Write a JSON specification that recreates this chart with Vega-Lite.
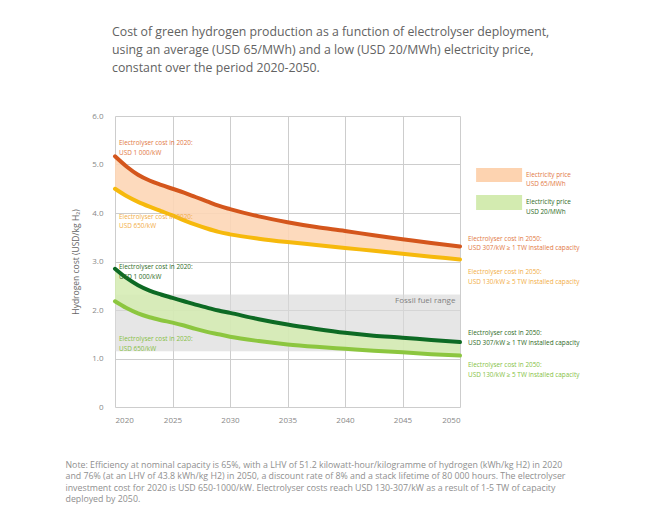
{
  "$schema": "https://vega.github.io/schema/vega-lite/v6.json",
  "autosize": {"type": "none"},
  "padding": {"left": 115, "top": 116, "right": 193, "bottom": 122},
  "width": 345,
  "height": 291,
  "background": "white",
  "config": {
    "font": "Open Sans",
    "view": {"stroke": null},
    "axis": {"labelFont": "Open Sans", "titleFont": "Open Sans"}
  },
  "title": {
    "text": [
      "Cost of green hydrogen production as a function of electrolyser deployment,",
      "using an average (USD 65/MWh) and a low (USD 20/MWh) electricity price,",
      "constant over the period 2020-2050."
    ],
    "anchor": "start",
    "frame": "group",
    "font": "Open Sans",
    "fontSize": 12.3,
    "fontWeight": "normal",
    "color": "#626262",
    "lineHeight": 18,
    "offset": 38,
    "dx": -3
  },
  "datasets": {
    "curves": [
      {"year": 2020, "avg1000": 5.17, "avg650": 4.50, "low1000": 2.85, "low650": 2.18},
      {"year": 2021, "avg1000": 4.96, "avg650": 4.35, "low1000": 2.66, "low650": 2.04},
      {"year": 2022, "avg1000": 4.79, "avg650": 4.23, "low1000": 2.51, "low650": 1.93},
      {"year": 2023, "avg1000": 4.67, "avg650": 4.13, "low1000": 2.40, "low650": 1.85},
      {"year": 2024, "avg1000": 4.58, "avg650": 4.04, "low1000": 2.32, "low650": 1.79},
      {"year": 2025, "avg1000": 4.50, "avg650": 3.95, "low1000": 2.25, "low650": 1.74},
      {"year": 2026, "avg1000": 4.42, "avg650": 3.85, "low1000": 2.18, "low650": 1.68},
      {"year": 2027, "avg1000": 4.33, "avg650": 3.76, "low1000": 2.11, "low650": 1.61},
      {"year": 2028, "avg1000": 4.24, "avg650": 3.68, "low1000": 2.05, "low650": 1.55},
      {"year": 2029, "avg1000": 4.15, "avg650": 3.61, "low1000": 1.99, "low650": 1.50},
      {"year": 2030, "avg1000": 4.08, "avg650": 3.56, "low1000": 1.94, "low650": 1.45},
      {"year": 2032.5, "avg1000": 3.93, "avg650": 3.47, "low1000": 1.81, "low650": 1.36},
      {"year": 2035, "avg1000": 3.81, "avg650": 3.40, "low1000": 1.70, "low650": 1.29},
      {"year": 2037.5, "avg1000": 3.71, "avg650": 3.34, "low1000": 1.61, "low650": 1.24},
      {"year": 2040, "avg1000": 3.63, "avg650": 3.28, "low1000": 1.53, "low650": 1.20},
      {"year": 2042.5, "avg1000": 3.54, "avg650": 3.22, "low1000": 1.47, "low650": 1.16},
      {"year": 2045, "avg1000": 3.46, "avg650": 3.16, "low1000": 1.43, "low650": 1.13},
      {"year": 2047.5, "avg1000": 3.38, "avg650": 3.10, "low1000": 1.38, "low650": 1.09},
      {"year": 2050, "avg1000": 3.31, "avg650": 3.04, "low1000": 1.34, "low650": 1.06}
    ],
    "labels": [
      {"series": "avg1000", "year": 2020.35, "cost": 5.44, "text": "Electrolyser cost in 2020:\nUSD 1 000/kW"},
      {"series": "avg650", "year": 2020.35, "cost": 3.92, "text": "Electrolyser cost in 2020:\nUSD 650/kW"},
      {"series": "low1000", "year": 2020.35, "cost": 2.88, "text": "Electrolyser cost in 2020:\nUSD 1 000/kW"},
      {"series": "low650", "year": 2020.35, "cost": 1.40, "text": "Electrolyser cost in 2020:\nUSD 650/kW"},
      {"series": "avg1000", "year": 2050.7, "cost": 3.47, "text": "Electrolyser cost in 2050:\nUSD 307/kW ≥ 1 TW installed capacity"},
      {"series": "avg650", "year": 2050.7, "cost": 2.78, "text": "Electrolyser cost in 2050:\nUSD 130/kW ≥ 5 TW installed capacity"},
      {"series": "low1000", "year": 2050.7, "cost": 1.52, "text": "Electrolyser cost in 2050:\nUSD 307/kW ≥ 1 TW installed capacity"},
      {"series": "low650", "year": 2050.7, "cost": 0.86, "text": "Electrolyser cost in 2050:\nUSD 130/kW ≥ 5 TW installed capacity"},
      {"series": "avg1000", "year": 2055.74, "cost": 4.79, "text": "Electricity price\nUSD 65/MWh"},
      {"series": "low1000", "year": 2055.74, "cost": 4.22, "text": "Electricity price\nUSD 20/MWh"}
    ],
    "legendbox": [
      {"price": "USD 65/MWh", "x1": 2051.4, "x2": 2055.4, "y1": 4.93, "y2": 4.64},
      {"price": "USD 20/MWh", "x1": 2051.4, "x2": 2055.4, "y1": 4.37, "y2": 4.06}
    ],
    "fossil": [
      {"x1": 2020, "x2": 2050, "lo": 1.15, "hi": 2.32, "label": "Fossil fuel range", "lx": 2049.6, "ly": 2.18}
    ]
  },
  "encoding": {
    "x": {
      "field": "year",
      "type": "quantitative",
      "scale": {"domain": [2020, 2050], "nice": false, "zero": false},
      "axis": {
        "values": [2020, 2025, 2030, 2035, 2040, 2045, 2050],
        "format": "d",
        "domain": false,
        "ticks": false,
        "grid": true,
        "gridColor": "#cdcdcd",
        "gridWidth": 1,
        "labelFontSize": 8,
        "labelColor": "#888888",
        "labelPadding": 9,
        "title": [
          "Note: Efficiency at nominal capacity is 65%, with a LHV of 51.2 kilowatt-hour/kilogramme of hydrogen (kWh/kg H2) in 2020",
          "and 76% (at an LHV of 43.8 kWh/kg H2) in 2050, a discount rate of 8% and a stack lifetime of 80 000 hours. The electrolyser",
          "investment cost for 2020 is USD 650-1000/kW. Electrolyser costs reach USD 130-307/kW as a result of 1-5 TW of capacity",
          "deployed by 2050."
        ],
        "titleAnchor": "start",
        "titleAlign": "left",
        "titleBaseline": "top",
        "titleX": -50,
        "titleY": 53,
        "titleFontSize": 8.8,
        "titleFontWeight": "normal",
        "titleColor": "#8f8f8f",
        "titleLineHeight": 11.6
      }
    },
    "y": {
      "field": "cost",
      "type": "quantitative",
      "scale": {"domain": [0, 6], "nice": false},
      "axis": {
        "values": [0, 1, 2, 3, 4, 5, 6],
        "labelExpr": "datum.value == 0 ? '0' : format(datum.value, '.1f')",
        "domain": false,
        "ticks": false,
        "grid": true,
        "gridColor": "#cdcdcd",
        "gridWidth": 1,
        "labelFontSize": 8,
        "labelColor": "#888888",
        "labelPadding": 12,
        "title": "Hydrogen cost (USD/kg H₂)",
        "titleFontSize": 8.5,
        "titleFontWeight": "normal",
        "titleColor": "#666666",
        "titlePadding": 11
      }
    }
  },
  "layer": [
    {
      "data": {"name": "fossil"},
      "mark": {"type": "rect", "color": "#d8d8d8", "opacity": 0.65},
      "encoding": {
        "x": {"field": "x1", "type": "quantitative"},
        "x2": {"field": "x2"},
        "y": {"field": "lo", "type": "quantitative"},
        "y2": {"field": "hi"}
      }
    },
    {
      "data": {"name": "curves"},
      "mark": {"type": "area", "color": "#fdd6b6", "opacity": 0.9, "interpolate": "monotone"},
      "encoding": {
        "y": {"field": "avg1000", "type": "quantitative"},
        "y2": {"field": "avg650"}
      }
    },
    {
      "data": {"name": "curves"},
      "mark": {"type": "area", "color": "#d3ebb0", "opacity": 0.85, "interpolate": "monotone"},
      "encoding": {
        "y": {"field": "low1000", "type": "quantitative"},
        "y2": {"field": "low650"}
      }
    },
    {
      "data": {"name": "curves"},
      "mark": {"type": "line", "color": "#f6b90c", "strokeWidth": 4, "strokeCap": "round", "interpolate": "monotone"},
      "encoding": {"y": {"field": "avg650", "type": "quantitative"}}
    },
    {
      "data": {"name": "curves"},
      "mark": {"type": "line", "color": "#d4561c", "strokeWidth": 4, "strokeCap": "round", "interpolate": "monotone"},
      "encoding": {"y": {"field": "avg1000", "type": "quantitative"}}
    },
    {
      "data": {"name": "curves"},
      "mark": {"type": "line", "color": "#8cc63f", "strokeWidth": 4, "strokeCap": "round", "interpolate": "monotone"},
      "encoding": {"y": {"field": "low650", "type": "quantitative"}}
    },
    {
      "data": {"name": "curves"},
      "mark": {"type": "line", "color": "#0d6a24", "strokeWidth": 4, "strokeCap": "round", "interpolate": "monotone"},
      "encoding": {"y": {"field": "low1000", "type": "quantitative"}}
    },
    {
      "data": {"name": "fossil"},
      "mark": {"type": "text", "align": "right", "baseline": "middle", "fontSize": 8, "color": "#808080"},
      "encoding": {
        "x": {"field": "lx", "type": "quantitative"},
        "y": {"field": "ly", "type": "quantitative"},
        "text": {"field": "label"}
      }
    },
    {
      "data": {"name": "legendbox"},
      "mark": {"type": "rect"},
      "encoding": {
        "x": {"field": "x1", "type": "quantitative"},
        "x2": {"field": "x2"},
        "y": {"field": "y1", "type": "quantitative"},
        "y2": {"field": "y2"},
        "fill": {
          "field": "price",
          "type": "nominal",
          "scale": {"domain": ["USD 65/MWh", "USD 20/MWh"], "range": ["#fdd3b0", "#d3ebb0"]},
          "legend": null
        }
      }
    },
    {
      "data": {"name": "labels"},
      "mark": {"type": "text", "align": "left", "baseline": "middle", "fontSize": 6.4, "lineHeight": 9.5, "lineBreak": "\n"},
      "encoding": {
        "x": {"field": "year", "type": "quantitative"},
        "y": {"field": "cost", "type": "quantitative"},
        "text": {"field": "text"},
        "color": {
          "field": "series",
          "type": "nominal",
          "scale": {"domain": ["avg1000", "avg650", "low1000", "low650"], "range": ["#e2783f", "#f2ad45", "#2d6a25", "#86bf45"]},
          "legend": null
        }
      }
    }
  ]
}
